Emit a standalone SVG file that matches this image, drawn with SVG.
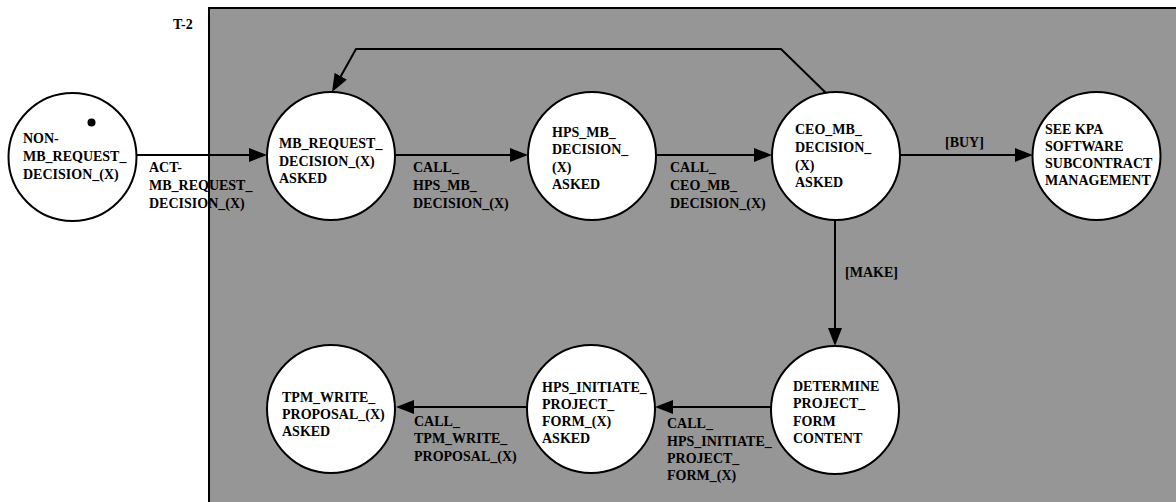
<svg xmlns="http://www.w3.org/2000/svg" width="1176" height="502" viewBox="0 0 1176 502" font-family="'Liberation Serif', 'Times New Roman', Times, serif" font-weight="bold" font-size="14">
<style>
.st{fill:#fff;stroke:#000;stroke-width:2}
.cn{fill:none;stroke:#000;stroke-width:2}
</style>
<defs>
<marker id="ah" viewBox="0 0 18 14" refX="10" refY="7" markerWidth="18" markerHeight="14" markerUnits="userSpaceOnUse" orient="auto">
<path d="M0,0 L18,7 L0,14 z" fill="#000"/>
</marker>
</defs>
<rect width="1176" height="502" fill="#fff"/>
<g id="frame">
<rect x="209" y="8" width="1000" height="520" fill="#969696" stroke="#000" stroke-width="2"/>
<text x="173" y="29">T-2</text>
</g>
<g id="connectors">
<path class="cn" d="M137,155 L259,155" marker-end="url(#ah)"/>
<path class="cn" d="M395,155 L520,155" marker-end="url(#ah)"/>
<path class="cn" d="M656,155 L764,155" marker-end="url(#ah)"/>
<path class="cn" d="M900,155 L1025,155" marker-end="url(#ah)"/>
<path class="cn" d="M835,220 L835,338" marker-end="url(#ah)"/>
<path class="cn" d="M771,407 L663,407" marker-end="url(#ah)"/>
<path class="cn" d="M527,407 L404,407" marker-end="url(#ah)"/>
<path class="cn" d="M826,93 L781,49 L356,49 L335.9,85" marker-end="url(#ah)"/>
<text><tspan x="149" y="171.5">ACT-</tspan><tspan x="149" y="190">MB_REQUEST_</tspan><tspan x="149" y="208">DECISION_(X)</tspan></text>
<text><tspan x="413" y="172">CALL_</tspan><tspan x="413" y="190">HPS_MB_</tspan><tspan x="413" y="207.5">DECISION_(X)</tspan></text>
<text><tspan x="670" y="172">CALL_</tspan><tspan x="670" y="190">CEO_MB_</tspan><tspan x="670" y="207.5">DECISION_(X)</tspan></text>
<text x="945" y="147">[BUY]</text>
<text x="845" y="277">[MAKE]</text>
<text><tspan x="667" y="428">CALL_</tspan><tspan x="667" y="445.5">HPS_INITIATE_</tspan><tspan x="667" y="463">PROJECT_</tspan><tspan x="667" y="480">FORM_(X)</tspan></text>
<text><tspan x="414" y="426">CALL_</tspan><tspan x="414" y="443">TPM_WRITE_</tspan><tspan x="414" y="461">PROPOSAL_(X)</tspan></text>
</g>
<g id="n1">
<circle class="st" cx="72.5" cy="157" r="64"/>
<circle cx="91.5" cy="122.5" r="4" fill="#000"/>
<text><tspan x="23" y="143">NON-</tspan><tspan x="23" y="161">MB_REQUEST_</tspan><tspan x="23" y="179">DECISION_(X)</tspan></text>
</g>
<g id="n2">
<circle class="st" cx="331" cy="156" r="64"/>
<text><tspan x="279" y="147.5">MB_REQUEST_</tspan><tspan x="279" y="165.5">DECISION_(X)</tspan><tspan x="279" y="183">ASKED</tspan></text>
</g>
<g id="n3">
<circle class="st" cx="592" cy="156" r="64"/>
<text><tspan x="552" y="136.5">HPS_MB_</tspan><tspan x="552" y="154">DECISION_</tspan><tspan x="552" y="171.5">(X)</tspan><tspan x="552" y="189">ASKED</tspan></text>
</g>
<g id="n4">
<circle class="st" cx="836" cy="156" r="64"/>
<text><tspan x="795" y="134">CEO_MB_</tspan><tspan x="795" y="152">DECISION_</tspan><tspan x="795" y="170">(X)</tspan><tspan x="795" y="187">ASKED</tspan></text>
</g>
<g id="n5">
<circle class="st" cx="1096.5" cy="156" r="64"/>
<text><tspan x="1045" y="134">SEE KPA</tspan><tspan x="1045" y="151">SOFTWARE</tspan><tspan x="1045" y="168">SUBCONTRACT</tspan><tspan x="1045" y="185">MANAGEMENT</tspan></text>
</g>
<g id="n6">
<circle class="st" cx="835" cy="410" r="64"/>
<text><tspan x="793" y="391">DETERMINE</tspan><tspan x="793" y="408">PROJECT_</tspan><tspan x="793" y="425.5">FORM</tspan><tspan x="793" y="443">CONTENT</tspan></text>
</g>
<g id="n7">
<circle class="st" cx="591" cy="409" r="64"/>
<text><tspan x="542" y="391.5">HPS_INITIATE_</tspan><tspan x="542" y="409">PROJECT_</tspan><tspan x="542" y="426">FORM_(X)</tspan><tspan x="542" y="443">ASKED</tspan></text>
</g>
<g id="n8">
<circle class="st" cx="331" cy="409" r="64"/>
<text><tspan x="282" y="401.5">TPM_WRITE_</tspan><tspan x="282" y="419">PROPOSAL_(X)</tspan><tspan x="282" y="436">ASKED</tspan></text>
</g>
</svg>
